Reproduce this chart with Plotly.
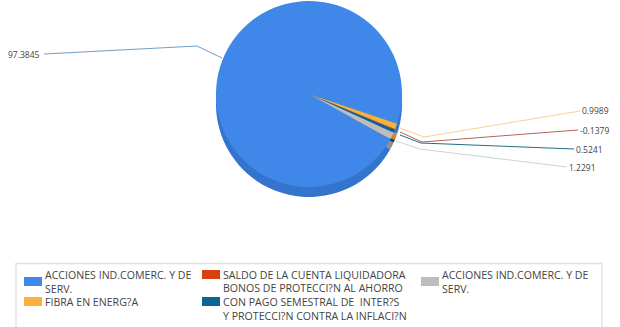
import plotly.graph_objects as go

W, H = 620, 327

labels = ["ACCIONES IND.COMERC. Y DE SERV.", "FIBRA EN ENERG?A", "SALDO DE LA CUENTA LIQUIDADORA",
          "BONOS DE PROTECCI?N AL AHORRO CON PAGO SEMESTRAL DE  INTER?S Y PROTECCI?N CONTRA LA INFLACI?N",
          "ACCIONES IND.COMERC. Y DE SERV."]
values = [97.3845, 0.9989, -0.1379, 0.5241, 1.2291]
value_text = ["97.3845", "0.9989", "-0.1379", "0.5241", "1.2291"]
legend_text = ["ACCIONES IND.COMERC. Y DE<br>SERV.", "FIBRA EN ENERG?A", "SALDO DE LA CUENTA LIQUIDADORA",
               "BONOS DE PROTECCI?N AL AHORRO<br>CON PAGO SEMESTRAL DE  INTER?S<br>Y PROTECCI?N CONTRA LA INFLACI?N",
               "ACCIONES IND.COMERC. Y DE<br>SERV."]
colors = ["#3f88ea", "#fbb03b", "#d9400f", "#0a6496", "#bdbdbd"]
side_colors = ["#3474cc", "#c98a2c", "#a8330c", "#084c72", "#8e8e8e"]
line_colors = ["#6f9fc8", "#f2d28f", "#b5675a", "#1f6f80", "#cfd3d3"]

# layout only (pixels)
leaders = [[(44, 54), (197, 46), (222, 58)],
           [(580, 111), (424, 137), (400, 128)],
           [(578, 130), (422, 142), (400, 132)],
           [(574, 149), (421, 143), (400, 135)],
           [(567, 167), (420, 149), (396, 141)]]
text_pos = [(42, 54, "right"), (580, 111, "left"), (578, 130, "left"), (574, 149, "left"), (567, 167, "left")]
swatches = [(24, 277, 42, 286), (24, 297, 42, 306), (202, 270, 220, 279), (202, 297, 220, 306), (421, 277, 439, 286)]
legend_x = [43, 43, 221, 221, 440]


def px(x):
    return x / W


def py(y):
    return 1 - y / H


def pie(colors_, top, bottom):
    return go.Pie(labels=[f"{i}" for i in range(len(values))], values=[abs(v) for v in values], sort=False,
                  direction="clockwise", rotation=119, textinfo="none", hoverinfo="text",
                  hovertext=[f"{l}: {t}" for l, t in zip(labels, value_text)], showlegend=False,
                  marker=dict(colors=colors_, line=dict(width=0)),
                  domain=dict(x=[px(309 - 96), px(309 + 96)], y=[py(bottom), py(top)]))


fig = go.Figure([pie(side_colors, 11, 197), pie(colors, 1, 187)])

shapes = [dict(type="rect", xref="paper", yref="paper", x0=px(16), x1=px(602), y0=py(263.5), y1=py(330),
               line=dict(color="#e0e0e0", width=1.3), fillcolor="white")]
for pts, c in zip(leaders, line_colors):
    path = "M " + " L ".join(f"{px(x)},{py(y)}" for x, y in pts)
    shapes.append(dict(type="path", xref="paper", yref="paper", path=path, line=dict(color=c, width=1)))
for (x0, y0, x1, y1), c in zip(swatches, colors):
    shapes.append(dict(type="rect", xref="paper", yref="paper", x0=px(x0), x1=px(x1), y0=py(y1), y1=py(y0),
                       fillcolor=c, line=dict(width=0)))

ann = []
for (x, y, a), t in zip(text_pos, value_text):
    ann.append(dict(x=px(x), y=py(y), xref="paper", yref="paper", text=t, showarrow=False, xanchor=a, yanchor="middle",
                    font=dict(size=8.5, color="#444444", family="Open Sans")))
for x, (x0, y0, x1, y1), t in zip(legend_x, swatches, legend_text):
    ann.append(dict(x=px(x), y=py((y0 + y1) / 2), xref="paper", yref="paper", text=t, showarrow=False, xanchor="left",
                    yanchor="middle", align="left", font=dict(size=10.6, color="#444444", family="Open Sans")))

fig.update_layout(width=W, height=H, margin=dict(l=0, r=0, t=0, b=0), paper_bgcolor="white",
                  shapes=shapes, annotations=ann)
fig.write_html("out.html", config=dict(displayModeBar=False),
               post_script="document.body.style.margin='0';document.body.style.overflow='hidden';")
